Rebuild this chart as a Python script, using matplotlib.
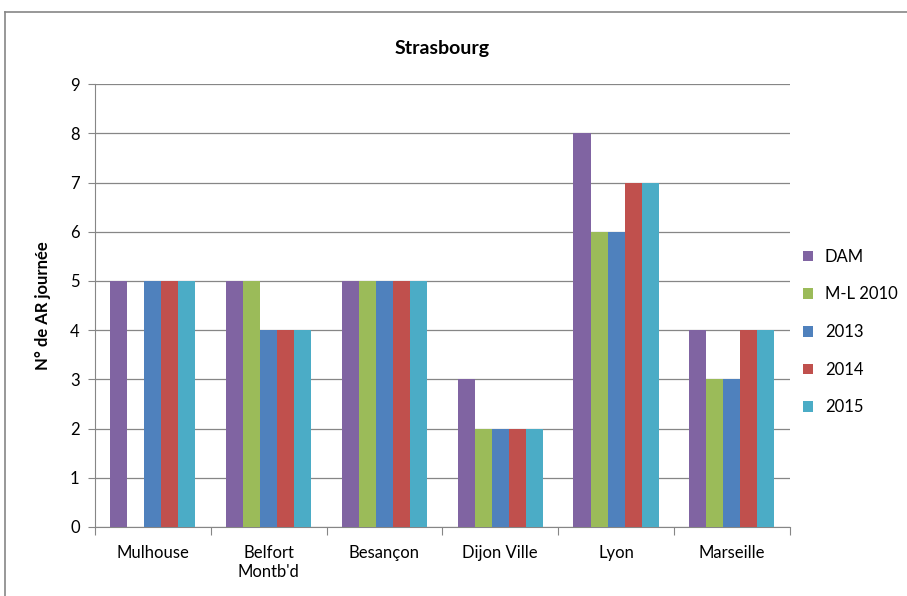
import numpy as np
import matplotlib.pyplot as plt
from matplotlib.lines import Line2D

plt.rcParams['font.family'] = ['Lato', 'DejaVu Sans']

# data
villes = ["Mulhouse", "Belfort\nMontb'd", "Besançon", "Dijon Ville", "Lyon", "Marseille"]
series = ["DAM", "M-L 2010", "2013", "2014", "2015"]
dam = [5, 5, 5, 3, 8, 4]
ml2010 = [0, 5, 5, 2, 6, 3]
y2013 = [5, 4, 5, 2, 6, 3]
y2014 = [5, 4, 5, 2, 7, 4]
y2015 = [5, 4, 5, 2, 7, 4]
couleurs = ["#8064A2", "#9BBB59", "#4F81BD", "#C0504D", "#4BACC6"]

values = [dam, ml2010, y2013, y2014, y2015]

fig = plt.figure(figsize=(9.07, 5.96), dpi=100)
ax = fig.add_axes([0.1047, 0.1158, 0.766, 0.743])

x = np.arange(len(villes))
w = 0.147
for i, (name, vals) in enumerate(zip(series, values)):
    ax.bar(x + (i - 2) * w, vals, w, color=couleurs[i], label=name, zorder=3)

ax.set_xlim(-0.5, len(villes) - 0.5)
ax.set_ylim(0, 9)
ax.set_yticks(range(10))
ax.grid(axis="y", color="#868686", linewidth=0.9, zorder=0)

ax.set_xticks(np.arange(-0.5, len(villes), 1.0))
ax.set_xticklabels([])
ax.set_xticks(x, minor=True)
ax.set_xticklabels(villes, minor=True, fontsize=12)
ax.tick_params(axis="x", which="major", length=6, color="#868686")
ax.tick_params(axis="x", which="minor", length=0, pad=13)
ax.tick_params(axis="y", length=5, color="#868686", labelsize=12, pad=6)

for s in ["top", "right"]:
    ax.spines[s].set_visible(False)
ax.spines["left"].set_color("#868686")
ax.spines["bottom"].set_color("#868686")

ax.set_ylabel("N° de AR journée", fontsize=12, fontweight="bold", labelpad=14)
ax.set_title("Strasbourg", fontsize=14, fontweight="bold", pad=22)

leg = ax.legend(loc="center left", bbox_to_anchor=(1.0, 0.44), frameon=False,
                fontsize=12, handlelength=0.6, handleheight=0.6,
                labelspacing=1.3, handletextpad=0.7, borderaxespad=0.4)

# outer chart frame
fig.add_artist(Line2D([5 / 907, 5 / 907], [0, 1 - 12 / 596], color="#868686", lw=1.2))
fig.add_artist(Line2D([5 / 907, 1], [1 - 12 / 596, 1 - 12 / 596], color="#868686", lw=1.2))

fig.savefig("out.png", dpi=100)
